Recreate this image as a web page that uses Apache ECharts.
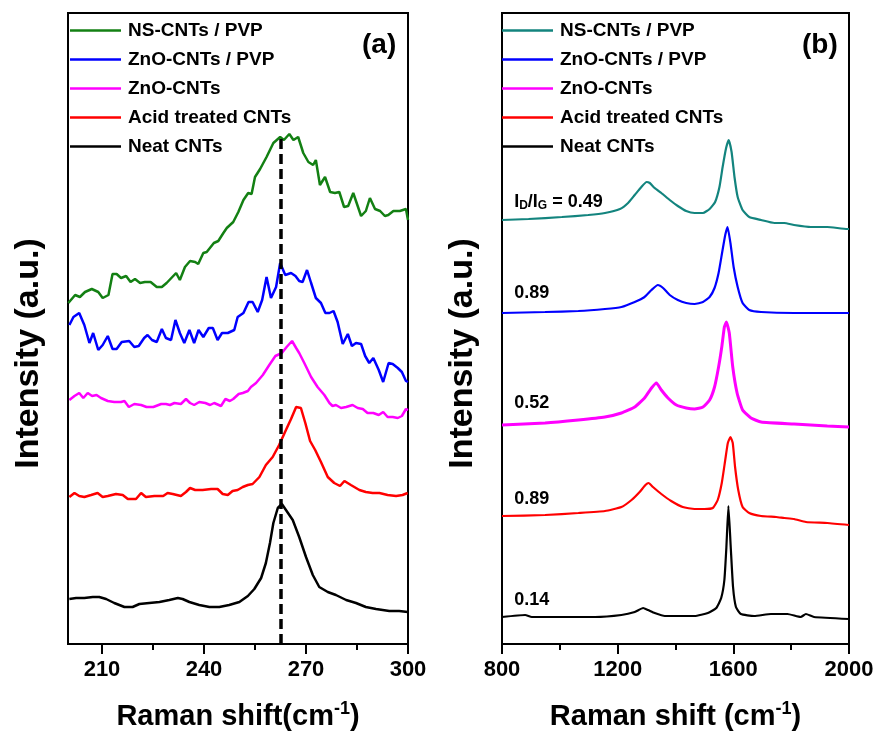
<!DOCTYPE html>
<html>
<head>
<meta charset="utf-8">
<script src="https://cdn.jsdelivr.net/npm/echarts@6/dist/echarts.min.js"></script>
<style>
  html, body { margin: 0; padding: 0; background: #fff; }
  #chart { width: 877px; height: 746px; }
</style>
</head>
<body>
<div id="chart"></div>
<script>
/* ---------------- DATA ---------------- */

const NAMES = ["NS-CNTs / PVP", "ZnO-CNTs / PVP", "ZnO-CNTs", "Acid treated CNTs", "Neat CNTs"];
const COLORS_A = ["#138013", "#0000ff", "#ff00ff", "#ff0000", "#000000"];
const COLORS_B = ["#13847e", "#0000ff", "#ff00ff", "#ff0000", "#000000"];

const TICKS_A = [210, 240, 270, 300];
const MINOR_A = [225, 255, 285];
const PEAK_LINE_X = 262.5;
const PEAK_LINE_TOP = 506;

// panel (a): RBM region, [shift, intensity (offset, a.u.)]
const NS_PVP_A = [[200.1,341],[202.1,349],[203.5,347],[205,352],[207,355],[208.9,352],[210.2,346],[211.9,349],[213.1,370],[214.3,370],[215.6,366],[217.1,368],[218.4,362],[219.7,365],[221.2,361],[222.6,362],[224.3,362],[226.1,357],[227.6,357],[229,361],[231.8,371],[232.9,364],[234.4,377],[235.9,383],[237.4,382],[238.3,380],[239.8,391],[240.8,392],[242.9,401],[244.2,403],[245.7,411],[246.7,416],[248.6,422],[250.1,432],[251.6,444],[253,451],[254,450],[255,467],[256.5,475],[258.4,487],[260.4,501],[262.4,507],[263.5,504],[265.1,510],[266.3,504],[267.7,507],[269.2,491],[270.7,482],[272.1,479],[272.9,484],[274.1,459],[275.6,467],[277.1,452],[278.5,451],[279.8,452],[281.2,437],[282.4,438],[283.9,451],[286.2,428],[287.6,433],[288.8,446],[290.3,435],[291.8,433],[293.2,428],[294.2,429],[295.7,433],[297.6,433],[299.4,435],[300,424]];
const ZNO_PVP_A = [[200.4,319],[201.6,327],[203.3,331],[204.8,319],[206.3,301],[207.4,311],[208.9,294],[210.2,299],[211.7,308],[213.1,295],[214.3,295],[215.8,302],[218,303],[219.5,297],[220.8,298],[222.4,306],[223.4,309],[224.7,304],[226.1,302],[227.6,315],[228.8,306],[230.3,304],[231.6,324],[232.9,311],[234.2,301],[235.7,314],[237.1,301],[238.4,314],[239.8,307],[241.4,316],[242.6,316],[244,304],[245.3,311],[247,311],[248.9,314],[249.9,327],[251.6,331],[253.1,342],[254.3,342],[255.8,332],[257.1,344],[258.4,367],[259.7,346],[261.2,357],[262.4,381],[263.9,369],[265.6,371],[266.9,368],[268,363],[269,362],[270.3,374],[271.5,361],[272.9,346],[274.4,341],[275.7,331],[276.9,331],[278.1,333],[279.3,322],[280.8,300],[282.3,310],[283.5,298],[284.7,301],[286.2,300],[287.4,288],[288.6,281],[289.8,286],[291.4,274],[292.7,262],[294.3,281],[295.5,280],[297,276],[298.2,272],[299.4,263],[300,262]];
const ZNO_A = [[200.4,244],[201.9,248],[203.3,251],[204.5,246],[205.8,251],[207.1,248],[208.4,249],[209.7,246],[211.7,243],[213.6,242],[215.6,242],[216.6,243],[217.9,237],[219.5,240],[221.5,239],[223.1,237],[225.1,237],[227.4,240],[228.8,240],[230,239],[231.3,241],[233.2,240],[234.7,245],[235.9,241],[237.1,239],[238.6,242],[240.4,241],[241.8,239],[243,241],[245,238],[246.3,245],[247.6,243],[248.6,245],[250.2,250],[251.4,251],[252.9,253],[253.8,257],[255.3,261],[257.3,269],[259.2,279],[261,288],[262.9,291],[264.3,297],[265.9,303],[267.1,296],[268,291],[269.5,281],[271.5,267],[273.4,257],[275.4,249],[276.9,241],[277.8,238],[278.8,239],[280.3,236],[281.8,237],[283.7,239],[285.2,236],[286.7,235],[288.1,231],[289.8,231],[291.4,229],[292.7,232],[294,227],[295.5,227],[297,226],[298.2,228],[299.4,235],[300,234]];
const ACID_A = [[200.4,147],[201.9,151],[203.3,148],[204.8,147],[206.8,149],[208.7,151],[210.2,147],[211.7,148],[214.1,150],[216.1,149],[217.6,145],[220,145],[221.5,151],[222.9,147],[225.4,148],[228,148],[229.3,151],[230.8,150],[233.2,148],[234.7,152],[235.9,156],[237.4,154],[239.6,154],[242.1,155],[244,155],[245.5,150],[247,149],[248.4,153],[249.9,154],[251.4,157],[252.9,159],[254.3,160],[256.3,167],[258.2,179],[260.2,187],[262.1,199],[264.1,214],[265.6,225],[267.1,237],[268.5,236],[269.8,221],[271.2,203],[272.7,194],[274.4,182],[276.4,167],[278.3,161],[280,158],[281.3,163],[283.2,159],[285.7,154],[287.6,152],[289.6,151],[291.6,151],[294,149],[296.5,148],[298.4,149],[299.9,151]];
const NEAT_A = [[200.4,45],[202.4,46],[204.8,46],[207.3,47],[209.2,47],[211.2,45],[213.6,41],[216.6,37],[219,37],[221,40],[223.9,41],[226.9,42],[229.8,44],[232.3,46],[233.7,45],[235.7,42],[238.6,39],[241.6,37],[244.5,37],[247.4,39],[250.4,42],[252.9,48],[254.8,55],[256.8,66],[258.2,81],[259.4,101],[260.4,121],[261.7,136],[262.9,140],[264.3,133],[266.1,124],[268,107],[270,87],[272,69],[273.9,57],[276.4,52],[278.8,49],[281.8,44],[284.7,41],[287.6,37],[290.6,35],[294.5,33],[297.4,33],[299.9,32]];

// panel (b): D and G band region
const NS_PVP_B = [[800,424],[892,425],[1007,427],[1098,429],[1156,431],[1208,435],[1236,441],[1259,449],[1282,457],[1300,462],[1311,461],[1328,456],[1351,451],[1380,444],[1408,438],[1437,433],[1466,431],[1495,431],[1518,435],[1537,442],[1552,457],[1563,477],[1575,496],[1584,504],[1594,492],[1604,467],[1615,447],[1632,434],[1655,427],[1696,424],[1742,421],[1776,421],[1810,419],[1868,417],[1925,417],[1994,415],[2000,415]];
const ZNO_PVP_B = [[800,331],[949,332],[1064,333],[1156,335],[1213,337],[1259,342],[1293,347],[1317,354],[1339,359],[1357,356],[1380,349],[1408,344],[1437,341],[1466,340],[1495,342],[1518,347],[1535,356],[1549,371],[1561,391],[1572,409],[1580,417],[1590,401],[1601,377],[1615,357],[1632,341],[1655,334],[1696,332],[1810,331],[1925,331],[2000,331]];
const ZNO_B = [[800,219],[949,221],[1064,224],[1156,227],[1213,231],[1259,237],[1293,246],[1317,256],[1334,261],[1351,254],[1374,246],[1403,239],[1437,236],[1466,235],[1495,237],[1518,244],[1535,257],[1549,277],[1560,297],[1569,317],[1576,322],[1586,311],[1598,277],[1613,251],[1632,234],[1661,226],[1696,222],[1810,220],[1925,218],[2000,217]];
const ACID_B = [[800,128],[949,129],[1064,131],[1156,133],[1213,137],[1248,144],[1276,152],[1296,159],[1307,161],[1322,157],[1351,150],[1385,143],[1425,137],[1466,135],[1500,135],[1529,136],[1546,144],[1560,161],[1572,184],[1581,201],[1590,207],[1598,201],[1606,177],[1617,154],[1632,137],[1655,131],[1696,128],[1748,127],[1776,126],[1810,125],[1851,122],[1925,121],[2000,119]];
const NEAT_B = [[800,27],[880,29],[903,27],[1007,27],[1122,27],[1213,29],[1259,32],[1288,36],[1305,34],[1328,31],[1363,28],[1466,28],[1512,31],[1541,36],[1558,46],[1569,64],[1576,97],[1583,138],[1591,97],[1599,57],[1609,37],[1626,30],[1672,28],[1730,30],[1787,30],[1833,27],[1851,30],[1879,27],[2000,25]];

// I_D/I_G labels for panel (b): [x, y] in data units, top-to-bottom
const RATIO_LABELS = ["I{sub|D}/I{sub|G} = 0.49", "0.89", "0.52", "0.89", "0.14"];
const RATIO_POS = [[842, 442], [842, 351], [842, 241], [842, 145], [842, 44]];

/* ---------------- CHART ---------------- */

const FONT = "Liberation Sans, Arial, sans-serif";

const SERIES_A = [NS_PVP_A, ZNO_PVP_A, ZNO_A, ACID_A, NEAT_A];
const SERIES_B = [NS_PVP_B, ZNO_PVP_B, ZNO_B, ACID_B, NEAT_B];

const chart = echarts.init(document.getElementById("chart"));

const xName = (txt) => ({
    name: "{a|" + txt + "}{b|-1}{a|)}",
    nameLocation: "middle",
    nameGap: 56,
    nameTextStyle: {
        rich: {
            a: { fontSize: 29, fontWeight: "bold", fontFamily: FONT, color: "#000" },
            b: { fontSize: 18, fontWeight: "bold", fontFamily: FONT, color: "#000",
                 verticalAlign: "bottom", padding: [0, 0, 15, 0] },
        },
    },
});

const axisLabelStyle = {
    fontSize: 22, fontWeight: "bold", fontFamily: FONT, color: "#000", margin: 15,
    formatter: (v) => String(v),
};

const legendFor = (left, colors) => ({
    orient: "vertical",
    left: left,
    top: 16,
    icon: "rect",
    itemWidth: 51,
    itemHeight: 2.5,
    itemGap: 10,
    textStyle: {
        fontSize: 19, fontWeight: "bold", fontFamily: FONT, color: "#000",
        lineHeight: 19, padding: [0, 0, 0, 2],
    },
    data: NAMES.map((n, i) => ({ name: n, itemStyle: { color: colors[i] } })),
    selectedMode: false,
});

const yAxisFor = (grid) => ({
    type: "value",
    gridIndex: grid,
    min: 0,
    max: 631,
    axisLine: { show: false },
    axisTick: { show: false },
    axisLabel: { show: false },
    splitLine: { show: false },
    name: "Intensity (a.u.)",
    nameLocation: "middle",
    nameGap: 22,
    nameTextStyle: {
        fontSize: 34, fontWeight: "bold", fontFamily: FONT, color: "#000",
        padding: [0, 50, 0, 0],
    },
});

const option = {
    animation: false,
    backgroundColor: "#fff",
    grid: [
        { left: 68, top: 13, width: 340, height: 631, show: true, borderColor: "#000", borderWidth: 2 },
        { left: 502, top: 13, width: 347, height: 631, show: true, borderColor: "#000", borderWidth: 2 },
    ],
    legend: [legendFor(65, COLORS_A), legendFor(497, COLORS_B)],
    xAxis: [
        {
            type: "value", gridIndex: 0, min: 200, max: 300, position: "bottom",
            axisLine: { lineStyle: { color: "#000", width: 2 } },
            axisTick: { customValues: TICKS_A, length: 10, lineStyle: { color: "#000", width: 2 } },
            axisLabel: Object.assign({ customValues: TICKS_A }, axisLabelStyle),
            splitLine: { show: false },
            ...xName("Raman shift(cm"),
        },
        {
            type: "value", gridIndex: 0, min: 200, max: 300, position: "bottom",
            axisLine: { show: false },
            axisTick: { customValues: MINOR_A, length: 6, lineStyle: { color: "#000", width: 2 } },
            axisLabel: { show: false },
            splitLine: { show: false },
        },
        {
            type: "value", gridIndex: 1, min: 800, max: 2000, interval: 400, position: "bottom",
            axisLine: { lineStyle: { color: "#000", width: 2 } },
            axisTick: { length: 10, lineStyle: { color: "#000", width: 2 } },
            minorTick: { show: true, splitNumber: 2, length: 6, lineStyle: { color: "#000", width: 2 } },
            axisLabel: axisLabelStyle,
            splitLine: { show: false },
            ...xName("Raman shift (cm"),
        },
    ],
    yAxis: [yAxisFor(0), yAxisFor(1)],
    series: [
        ...SERIES_A.map((d, i) => ({
            name: NAMES[i],
            type: "line",
            xAxisIndex: 0,
            yAxisIndex: 0,
            data: d,
            symbol: "none",
            lineStyle: { color: COLORS_A[i], width: 2.5 },
            itemStyle: { color: COLORS_A[i] },
            z: 3,
            ...(i === 4 ? {
                markLine: {
                    silent: true,
                    symbol: "none",
                    label: { show: false },
                    lineStyle: { color: "#000", width: 3.5, type: [10, 5] },
                    data: [[{ coord: [PEAK_LINE_X, 0] }, { coord: [PEAK_LINE_X, PEAK_LINE_TOP] }]],
                },
            } : {}),
        })),
        ...SERIES_B.map((d, i) => ({
            name: NAMES[i],
            type: "line",
            xAxisIndex: 2,
            yAxisIndex: 1,
            data: d,
            symbol: "none",
            smooth: 0.15,
            lineStyle: { color: COLORS_B[i], width: i === 2 ? 3 : 2.2 },
            itemStyle: { color: COLORS_B[i] },
        })),
    ],
};

chart.setOption(option);

// panel tags and I_D/I_G labels
const graphics = [
    { type: "text", left: 362, top: 31, style: { text: "(a)", font: "bold 28px " + FONT, fill: "#000" } },
    { type: "text", left: 802, top: 31, style: { text: "(b)", font: "bold 28px " + FONT, fill: "#000" } },
];
RATIO_POS.forEach((p, i) => {
    const px = chart.convertToPixel({ xAxisIndex: 2, yAxisIndex: 1 }, p);
    graphics.push({
        type: "text",
        x: px[0],
        y: px[1],
        style: {
            text: RATIO_LABELS[i],
            verticalAlign: "middle",
            fill: "#000",
            fontSize: 18,
            fontWeight: "bold",
            fontFamily: FONT,
            rich: {
                sub: { fontSize: 12, fontWeight: "bold", fontFamily: FONT, verticalAlign: "top", padding: [8, 0, 0, 0] },
            },
        },
    });
});
chart.setOption({ graphic: graphics });
</script>
</body>
</html>
